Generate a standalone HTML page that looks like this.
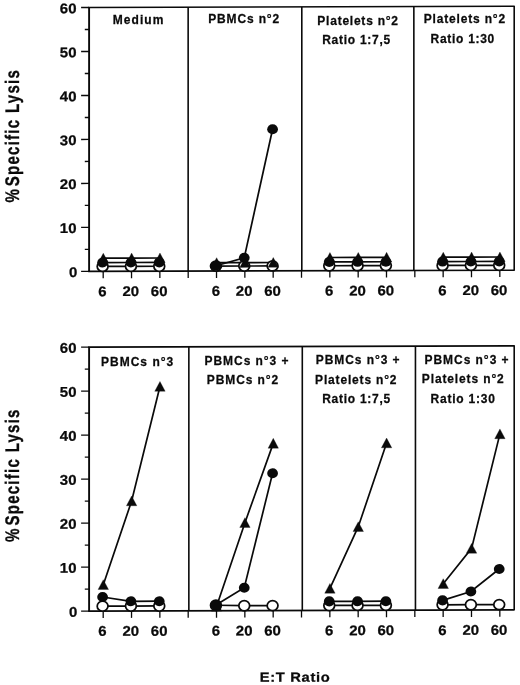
<!DOCTYPE html><html><head><meta charset="utf-8"><title>chart</title><style>
html,body{margin:0;padding:0;background:#fff;}body{width:520px;height:685px;overflow:hidden;}
svg{display:block;filter:grayscale(1);}text{font-family:"Liberation Sans",sans-serif;font-weight:bold;fill:#0a0a0a;stroke:#0a0a0a;stroke-width:0.25px;}
.t{font-size:12px;}.n{font-size:14px;}.yl{font-size:15.1px;}.xl{font-size:13.4px;}
</style></head><body>
<svg width="520" height="685" viewBox="0 0 520 685">
<rect width="520" height="685" fill="#fff"/>
<g transform="matrix(1 -0.00290 0 1 0 0.258)">
<g stroke="#0a0a0a" stroke-width="1.60" fill="none" stroke-linecap="butt">
<path stroke-linejoin="round" d="M88.20 7.50 H514.20 V271.40 H88.20"/>
<path stroke-width="1.35" d="M81.10 7.50 H89.10 M81.10 271.40 H89.10"/>
<path stroke-width="1.9" d="M89.10 7.50 V271.40"/>
<path d="M188.15 7.50 V271.40"/>
<path stroke-width="1.3" d="M188.19 271.40 V278.30"/>
<path d="M301.80 7.50 V271.40"/>
<path stroke-width="1.3" d="M301.51 271.40 V278.30"/>
<path d="M413.85 7.50 V271.40"/>
<path stroke-width="1.3" d="M414.83 271.40 V278.30"/>
<path stroke-width="1.35" d="M84.80 249.41 H89.10"/>
<path stroke-width="1.35" d="M81.10 227.42 H89.10"/>
<path stroke-width="1.35" d="M84.80 205.42 H89.10"/>
<path stroke-width="1.35" d="M81.10 183.43 H89.10"/>
<path stroke-width="1.35" d="M84.80 161.44 H89.10"/>
<path stroke-width="1.35" d="M81.10 139.45 H89.10"/>
<path stroke-width="1.35" d="M84.80 117.46 H89.10"/>
<path stroke-width="1.35" d="M81.10 95.47 H89.10"/>
<path stroke-width="1.35" d="M84.80 73.47 H89.10"/>
<path stroke-width="1.35" d="M81.10 51.48 H89.10"/>
<path stroke-width="1.35" d="M84.80 29.49 H89.10"/>
<path stroke-width="1.3" d="M103.20 271.40 V278.30"/>
<path stroke-width="1.3" d="M131.53 271.40 V278.30"/>
<path stroke-width="1.3" d="M159.86 271.40 V278.30"/>
<path stroke-width="1.3" d="M216.52 271.40 V278.30"/>
<path stroke-width="1.3" d="M244.85 271.40 V278.30"/>
<path stroke-width="1.3" d="M273.18 271.40 V278.30"/>
<path stroke-width="1.3" d="M329.84 271.40 V278.30"/>
<path stroke-width="1.3" d="M358.17 271.40 V278.30"/>
<path stroke-width="1.3" d="M386.50 271.40 V278.30"/>
<path stroke-width="1.3" d="M443.16 271.40 V278.30"/>
<path stroke-width="1.3" d="M471.49 271.40 V278.30"/>
<path stroke-width="1.3" d="M499.82 271.40 V278.30"/>
</g>
<text class="n" transform="translate(77.40 277.00) scale(1.070 1)" text-anchor="end">0</text>
<text class="n" transform="translate(76.50 233.02) scale(1.070 1)" text-anchor="end">10</text>
<text class="n" transform="translate(76.50 189.03) scale(1.070 1)" text-anchor="end">20</text>
<text class="n" transform="translate(76.50 145.05) scale(1.070 1)" text-anchor="end">30</text>
<text class="n" transform="translate(76.50 101.07) scale(1.070 1)" text-anchor="end">40</text>
<text class="n" transform="translate(76.50 57.08) scale(1.070 1)" text-anchor="end">50</text>
<text class="n" transform="translate(76.50 13.10) scale(1.070 1)" text-anchor="end">60</text>
<text class="n" transform="translate(102.50 296.20) scale(1.070 1)" text-anchor="middle">6</text>
<text class="n" transform="translate(130.83 296.20) scale(1.070 1)" text-anchor="middle">20</text>
<text class="n" transform="translate(159.16 296.20) scale(1.070 1)" text-anchor="middle">60</text>
<text class="n" transform="translate(215.82 296.20) scale(1.070 1)" text-anchor="middle">6</text>
<text class="n" transform="translate(244.15 296.20) scale(1.070 1)" text-anchor="middle">20</text>
<text class="n" transform="translate(272.48 296.20) scale(1.070 1)" text-anchor="middle">60</text>
<text class="n" transform="translate(329.14 296.20) scale(1.070 1)" text-anchor="middle">6</text>
<text class="n" transform="translate(357.47 296.20) scale(1.070 1)" text-anchor="middle">20</text>
<text class="n" transform="translate(385.80 296.20) scale(1.070 1)" text-anchor="middle">60</text>
<text class="n" transform="translate(442.46 296.20) scale(1.070 1)" text-anchor="middle">6</text>
<text class="n" transform="translate(470.79 296.20) scale(1.070 1)" text-anchor="middle">20</text>
<text class="n" transform="translate(499.12 296.20) scale(1.070 1)" text-anchor="middle">60</text>
<polyline points="103.30,258.20 131.63,258.20 159.96,258.20" fill="none" stroke="#0a0a0a" stroke-width="1.7"/>
<polyline points="102.60,266.47 130.93,266.47 159.26,266.47" fill="none" stroke="#0a0a0a" stroke-width="1.7"/>
<polyline points="102.60,262.60 130.93,262.60 159.26,262.60" fill="none" stroke="#0a0a0a" stroke-width="1.7"/>
<ellipse cx="102.60" cy="266.47" rx="5.4" ry="5.05" fill="#fff" stroke="#0a0a0a" stroke-width="1.75"/>
<ellipse cx="130.93" cy="266.47" rx="5.4" ry="5.05" fill="#fff" stroke="#0a0a0a" stroke-width="1.75"/>
<ellipse cx="159.26" cy="266.47" rx="5.4" ry="5.05" fill="#fff" stroke="#0a0a0a" stroke-width="1.75"/>
<path d="M103.30 253.20 L108.50 263.00 L98.10 263.00 Z" fill="#0a0a0a" stroke="#0a0a0a" stroke-width="0.3" stroke-linejoin="round"/>
<path d="M131.63 253.20 L136.83 263.00 L126.43 263.00 Z" fill="#0a0a0a" stroke="#0a0a0a" stroke-width="0.3" stroke-linejoin="round"/>
<path d="M159.96 253.20 L165.16 263.00 L154.76 263.00 Z" fill="#0a0a0a" stroke="#0a0a0a" stroke-width="0.3" stroke-linejoin="round"/>
<ellipse cx="102.60" cy="262.60" rx="5.4" ry="5.05" fill="#0a0a0a"/>
<ellipse cx="130.93" cy="262.60" rx="5.4" ry="5.05" fill="#0a0a0a"/>
<ellipse cx="159.26" cy="262.60" rx="5.4" ry="5.05" fill="#0a0a0a"/>
<polyline points="216.62,263.04 244.95,263.04 273.28,263.04" fill="none" stroke="#0a0a0a" stroke-width="1.7"/>
<polyline points="215.92,266.47 244.25,266.47 272.58,266.47" fill="none" stroke="#0a0a0a" stroke-width="1.7"/>
<polyline points="215.92,266.12 244.25,258.20 272.58,129.77" fill="none" stroke="#0a0a0a" stroke-width="1.7"/>
<ellipse cx="215.92" cy="266.47" rx="5.4" ry="5.05" fill="#fff" stroke="#0a0a0a" stroke-width="1.75"/>
<ellipse cx="244.25" cy="266.47" rx="5.4" ry="5.05" fill="#fff" stroke="#0a0a0a" stroke-width="1.75"/>
<ellipse cx="272.58" cy="266.47" rx="5.4" ry="5.05" fill="#fff" stroke="#0a0a0a" stroke-width="1.75"/>
<path d="M216.62 258.04 L221.82 267.84 L211.42 267.84 Z" fill="#0a0a0a" stroke="#0a0a0a" stroke-width="0.3" stroke-linejoin="round"/>
<path d="M244.95 258.04 L250.15 267.84 L239.75 267.84 Z" fill="#0a0a0a" stroke="#0a0a0a" stroke-width="0.3" stroke-linejoin="round"/>
<path d="M273.28 258.04 L278.48 267.84 L268.08 267.84 Z" fill="#0a0a0a" stroke="#0a0a0a" stroke-width="0.3" stroke-linejoin="round"/>
<ellipse cx="215.92" cy="266.12" rx="5.4" ry="5.05" fill="#0a0a0a"/>
<ellipse cx="244.25" cy="258.20" rx="5.4" ry="5.05" fill="#0a0a0a"/>
<ellipse cx="272.58" cy="129.77" rx="5.4" ry="5.05" fill="#0a0a0a"/>
<polyline points="329.94,258.20 358.27,258.20 386.60,258.20" fill="none" stroke="#0a0a0a" stroke-width="1.7"/>
<polyline points="329.24,266.47 357.57,266.47 385.90,266.47" fill="none" stroke="#0a0a0a" stroke-width="1.7"/>
<polyline points="329.24,262.60 357.57,262.60 385.90,262.60" fill="none" stroke="#0a0a0a" stroke-width="1.7"/>
<ellipse cx="329.24" cy="266.47" rx="5.4" ry="5.05" fill="#fff" stroke="#0a0a0a" stroke-width="1.75"/>
<ellipse cx="357.57" cy="266.47" rx="5.4" ry="5.05" fill="#fff" stroke="#0a0a0a" stroke-width="1.75"/>
<ellipse cx="385.90" cy="266.47" rx="5.4" ry="5.05" fill="#fff" stroke="#0a0a0a" stroke-width="1.75"/>
<path d="M329.94 253.20 L335.14 263.00 L324.74 263.00 Z" fill="#0a0a0a" stroke="#0a0a0a" stroke-width="0.3" stroke-linejoin="round"/>
<path d="M358.27 253.20 L363.47 263.00 L353.07 263.00 Z" fill="#0a0a0a" stroke="#0a0a0a" stroke-width="0.3" stroke-linejoin="round"/>
<path d="M386.60 253.20 L391.80 263.00 L381.40 263.00 Z" fill="#0a0a0a" stroke="#0a0a0a" stroke-width="0.3" stroke-linejoin="round"/>
<ellipse cx="329.24" cy="262.60" rx="5.4" ry="5.05" fill="#0a0a0a"/>
<ellipse cx="357.57" cy="262.60" rx="5.4" ry="5.05" fill="#0a0a0a"/>
<ellipse cx="385.90" cy="262.60" rx="5.4" ry="5.05" fill="#0a0a0a"/>
<polyline points="443.26,258.20 471.59,258.20 499.92,258.20" fill="none" stroke="#0a0a0a" stroke-width="1.7"/>
<polyline points="442.56,266.47 470.89,266.47 499.22,266.47" fill="none" stroke="#0a0a0a" stroke-width="1.7"/>
<polyline points="442.56,262.60 470.89,262.60 499.22,262.60" fill="none" stroke="#0a0a0a" stroke-width="1.7"/>
<ellipse cx="442.56" cy="266.47" rx="5.4" ry="5.05" fill="#fff" stroke="#0a0a0a" stroke-width="1.75"/>
<ellipse cx="470.89" cy="266.47" rx="5.4" ry="5.05" fill="#fff" stroke="#0a0a0a" stroke-width="1.75"/>
<ellipse cx="499.22" cy="266.47" rx="5.4" ry="5.05" fill="#fff" stroke="#0a0a0a" stroke-width="1.75"/>
<path d="M443.26 253.20 L448.46 263.00 L438.06 263.00 Z" fill="#0a0a0a" stroke="#0a0a0a" stroke-width="0.3" stroke-linejoin="round"/>
<path d="M471.59 253.20 L476.79 263.00 L466.39 263.00 Z" fill="#0a0a0a" stroke="#0a0a0a" stroke-width="0.3" stroke-linejoin="round"/>
<path d="M499.92 253.20 L505.12 263.00 L494.72 263.00 Z" fill="#0a0a0a" stroke="#0a0a0a" stroke-width="0.3" stroke-linejoin="round"/>
<ellipse cx="442.56" cy="262.60" rx="5.4" ry="5.05" fill="#0a0a0a"/>
<ellipse cx="470.89" cy="262.60" rx="5.4" ry="5.05" fill="#0a0a0a"/>
<ellipse cx="499.22" cy="262.60" rx="5.4" ry="5.05" fill="#0a0a0a"/>
<g stroke="#0a0a0a" stroke-width="1.60" fill="none" stroke-linecap="butt">
<path stroke-linejoin="round" d="M88.20 347.10 H514.20 V611.10 H88.20"/>
<path stroke-width="1.35" d="M81.10 347.10 H89.10 M81.10 611.10 H89.10"/>
<path stroke-width="1.9" d="M89.10 347.10 V611.10"/>
<path d="M188.85 347.10 V611.10"/>
<path stroke-width="1.3" d="M188.19 611.10 V618.00"/>
<path d="M302.30 347.10 V611.10"/>
<path stroke-width="1.3" d="M301.51 611.10 V618.00"/>
<path d="M415.45 347.10 V611.10"/>
<path stroke-width="1.3" d="M414.83 611.10 V618.00"/>
<path stroke-width="1.35" d="M84.80 589.10 H89.10"/>
<path stroke-width="1.35" d="M81.10 567.10 H89.10"/>
<path stroke-width="1.35" d="M84.80 545.10 H89.10"/>
<path stroke-width="1.35" d="M81.10 523.10 H89.10"/>
<path stroke-width="1.35" d="M84.80 501.10 H89.10"/>
<path stroke-width="1.35" d="M81.10 479.10 H89.10"/>
<path stroke-width="1.35" d="M84.80 457.10 H89.10"/>
<path stroke-width="1.35" d="M81.10 435.10 H89.10"/>
<path stroke-width="1.35" d="M84.80 413.10 H89.10"/>
<path stroke-width="1.35" d="M81.10 391.10 H89.10"/>
<path stroke-width="1.35" d="M84.80 369.10 H89.10"/>
<path stroke-width="1.3" d="M103.20 611.10 V618.00"/>
<path stroke-width="1.3" d="M131.53 611.10 V618.00"/>
<path stroke-width="1.3" d="M159.86 611.10 V618.00"/>
<path stroke-width="1.3" d="M216.52 611.10 V618.00"/>
<path stroke-width="1.3" d="M244.85 611.10 V618.00"/>
<path stroke-width="1.3" d="M273.18 611.10 V618.00"/>
<path stroke-width="1.3" d="M329.84 611.10 V618.00"/>
<path stroke-width="1.3" d="M358.17 611.10 V618.00"/>
<path stroke-width="1.3" d="M386.50 611.10 V618.00"/>
<path stroke-width="1.3" d="M443.16 611.10 V618.00"/>
<path stroke-width="1.3" d="M471.49 611.10 V618.00"/>
<path stroke-width="1.3" d="M499.82 611.10 V618.00"/>
</g>
<text class="n" transform="translate(77.40 616.70) scale(1.070 1)" text-anchor="end">0</text>
<text class="n" transform="translate(76.50 572.70) scale(1.070 1)" text-anchor="end">10</text>
<text class="n" transform="translate(76.50 528.70) scale(1.070 1)" text-anchor="end">20</text>
<text class="n" transform="translate(76.50 484.70) scale(1.070 1)" text-anchor="end">30</text>
<text class="n" transform="translate(76.50 440.70) scale(1.070 1)" text-anchor="end">40</text>
<text class="n" transform="translate(76.50 396.70) scale(1.070 1)" text-anchor="end">50</text>
<text class="n" transform="translate(76.50 352.70) scale(1.070 1)" text-anchor="end">60</text>
<text class="n" transform="translate(102.50 635.90) scale(1.070 1)" text-anchor="middle">6</text>
<text class="n" transform="translate(130.83 635.90) scale(1.070 1)" text-anchor="middle">20</text>
<text class="n" transform="translate(159.16 635.90) scale(1.070 1)" text-anchor="middle">60</text>
<text class="n" transform="translate(215.82 635.90) scale(1.070 1)" text-anchor="middle">6</text>
<text class="n" transform="translate(244.15 635.90) scale(1.070 1)" text-anchor="middle">20</text>
<text class="n" transform="translate(272.48 635.90) scale(1.070 1)" text-anchor="middle">60</text>
<text class="n" transform="translate(329.14 635.90) scale(1.070 1)" text-anchor="middle">6</text>
<text class="n" transform="translate(357.47 635.90) scale(1.070 1)" text-anchor="middle">20</text>
<text class="n" transform="translate(385.80 635.90) scale(1.070 1)" text-anchor="middle">60</text>
<text class="n" transform="translate(442.46 635.90) scale(1.070 1)" text-anchor="middle">6</text>
<text class="n" transform="translate(470.79 635.90) scale(1.070 1)" text-anchor="middle">20</text>
<text class="n" transform="translate(499.12 635.90) scale(1.070 1)" text-anchor="middle">60</text>
<polyline points="103.30,584.70 131.63,501.10 159.96,386.70" fill="none" stroke="#0a0a0a" stroke-width="1.7"/>
<polyline points="102.60,606.17 130.93,606.17 159.26,606.17" fill="none" stroke="#0a0a0a" stroke-width="1.7"/>
<polyline points="102.60,597.02 130.93,601.42 159.26,601.42" fill="none" stroke="#0a0a0a" stroke-width="1.7"/>
<ellipse cx="102.60" cy="606.17" rx="5.4" ry="5.05" fill="#fff" stroke="#0a0a0a" stroke-width="1.75"/>
<ellipse cx="130.93" cy="606.17" rx="5.4" ry="5.05" fill="#fff" stroke="#0a0a0a" stroke-width="1.75"/>
<ellipse cx="159.26" cy="606.17" rx="5.4" ry="5.05" fill="#fff" stroke="#0a0a0a" stroke-width="1.75"/>
<path d="M103.30 579.70 L108.50 589.50 L98.10 589.50 Z" fill="#0a0a0a" stroke="#0a0a0a" stroke-width="0.3" stroke-linejoin="round"/>
<path d="M131.63 496.10 L136.83 505.90 L126.43 505.90 Z" fill="#0a0a0a" stroke="#0a0a0a" stroke-width="0.3" stroke-linejoin="round"/>
<path d="M159.96 381.70 L165.16 391.50 L154.76 391.50 Z" fill="#0a0a0a" stroke="#0a0a0a" stroke-width="0.3" stroke-linejoin="round"/>
<ellipse cx="102.60" cy="597.02" rx="5.4" ry="5.05" fill="#0a0a0a"/>
<ellipse cx="130.93" cy="601.42" rx="5.4" ry="5.05" fill="#0a0a0a"/>
<ellipse cx="159.26" cy="601.42" rx="5.4" ry="5.05" fill="#0a0a0a"/>
<polyline points="216.62,606.70 244.95,523.10 273.28,443.90" fill="none" stroke="#0a0a0a" stroke-width="1.7"/>
<polyline points="215.92,605.60 244.25,606.17 272.58,606.17" fill="none" stroke="#0a0a0a" stroke-width="1.7"/>
<polyline points="215.92,605.38 244.25,588.22 272.58,473.82" fill="none" stroke="#0a0a0a" stroke-width="1.7"/>
<ellipse cx="215.92" cy="605.60" rx="5.4" ry="5.05" fill="#fff" stroke="#0a0a0a" stroke-width="1.75"/>
<ellipse cx="244.25" cy="606.17" rx="5.4" ry="5.05" fill="#fff" stroke="#0a0a0a" stroke-width="1.75"/>
<ellipse cx="272.58" cy="606.17" rx="5.4" ry="5.05" fill="#fff" stroke="#0a0a0a" stroke-width="1.75"/>
<path d="M216.62 601.70 L221.82 611.50 L211.42 611.50 Z" fill="#0a0a0a" stroke="#0a0a0a" stroke-width="0.3" stroke-linejoin="round"/>
<path d="M244.95 518.10 L250.15 527.90 L239.75 527.90 Z" fill="#0a0a0a" stroke="#0a0a0a" stroke-width="0.3" stroke-linejoin="round"/>
<path d="M273.28 438.90 L278.48 448.70 L268.08 448.70 Z" fill="#0a0a0a" stroke="#0a0a0a" stroke-width="0.3" stroke-linejoin="round"/>
<ellipse cx="215.92" cy="605.38" rx="5.4" ry="5.05" fill="#0a0a0a"/>
<ellipse cx="244.25" cy="588.22" rx="5.4" ry="5.05" fill="#0a0a0a"/>
<ellipse cx="272.58" cy="473.82" rx="5.4" ry="5.05" fill="#0a0a0a"/>
<polyline points="329.94,589.10 358.27,527.50 386.60,443.90" fill="none" stroke="#0a0a0a" stroke-width="1.7"/>
<polyline points="329.24,606.17 357.57,606.17 385.90,606.17" fill="none" stroke="#0a0a0a" stroke-width="1.7"/>
<polyline points="329.24,602.08 357.57,602.08 385.90,602.08" fill="none" stroke="#0a0a0a" stroke-width="1.7"/>
<ellipse cx="329.24" cy="606.17" rx="5.4" ry="5.05" fill="#fff" stroke="#0a0a0a" stroke-width="1.75"/>
<ellipse cx="357.57" cy="606.17" rx="5.4" ry="5.05" fill="#fff" stroke="#0a0a0a" stroke-width="1.75"/>
<ellipse cx="385.90" cy="606.17" rx="5.4" ry="5.05" fill="#fff" stroke="#0a0a0a" stroke-width="1.75"/>
<path d="M329.94 584.10 L335.14 593.90 L324.74 593.90 Z" fill="#0a0a0a" stroke="#0a0a0a" stroke-width="0.3" stroke-linejoin="round"/>
<path d="M358.27 522.50 L363.47 532.30 L353.07 532.30 Z" fill="#0a0a0a" stroke="#0a0a0a" stroke-width="0.3" stroke-linejoin="round"/>
<path d="M386.60 438.90 L391.80 448.70 L381.40 448.70 Z" fill="#0a0a0a" stroke="#0a0a0a" stroke-width="0.3" stroke-linejoin="round"/>
<ellipse cx="329.24" cy="602.08" rx="5.4" ry="5.05" fill="#0a0a0a"/>
<ellipse cx="357.57" cy="602.08" rx="5.4" ry="5.05" fill="#0a0a0a"/>
<ellipse cx="385.90" cy="602.08" rx="5.4" ry="5.05" fill="#0a0a0a"/>
<polyline points="443.26,584.70 471.59,549.50 499.92,435.10" fill="none" stroke="#0a0a0a" stroke-width="1.7"/>
<polyline points="442.56,605.82 470.89,605.82 499.22,605.82" fill="none" stroke="#0a0a0a" stroke-width="1.7"/>
<polyline points="442.56,601.42 470.89,592.62 499.22,570.18" fill="none" stroke="#0a0a0a" stroke-width="1.7"/>
<ellipse cx="442.56" cy="605.82" rx="5.4" ry="5.05" fill="#fff" stroke="#0a0a0a" stroke-width="1.75"/>
<ellipse cx="470.89" cy="605.82" rx="5.4" ry="5.05" fill="#fff" stroke="#0a0a0a" stroke-width="1.75"/>
<ellipse cx="499.22" cy="605.82" rx="5.4" ry="5.05" fill="#fff" stroke="#0a0a0a" stroke-width="1.75"/>
<path d="M443.26 579.70 L448.46 589.50 L438.06 589.50 Z" fill="#0a0a0a" stroke="#0a0a0a" stroke-width="0.3" stroke-linejoin="round"/>
<path d="M471.59 544.50 L476.79 554.30 L466.39 554.30 Z" fill="#0a0a0a" stroke="#0a0a0a" stroke-width="0.3" stroke-linejoin="round"/>
<path d="M499.92 430.10 L505.12 439.90 L494.72 439.90 Z" fill="#0a0a0a" stroke="#0a0a0a" stroke-width="0.3" stroke-linejoin="round"/>
<ellipse cx="442.56" cy="601.42" rx="5.4" ry="5.05" fill="#0a0a0a"/>
<ellipse cx="470.89" cy="592.62" rx="5.4" ry="5.05" fill="#0a0a0a"/>
<ellipse cx="499.22" cy="570.18" rx="5.4" ry="5.05" fill="#0a0a0a"/>
<text class="yl" transform="translate(18.8 202.40) rotate(-90) scale(1 1.30)" style="letter-spacing:1.200px;word-spacing:0.3px">%<tspan dx="1.8">Specific Lysis</tspan></text>
<text class="yl" transform="translate(18.8 541.70) rotate(-90) scale(1 1.30)" style="letter-spacing:1.200px;word-spacing:0.3px">%<tspan dx="1.8">Specific Lysis</tspan></text>
<text class="xl" transform="translate(259.70 682.3) scale(1.1 1)" style="letter-spacing:0.620px">E:T Ratio</text>
</g>
<text class="t" transform="translate(112.82 24.00) scale(1 1.05)" style="letter-spacing:1.036px">Medium</text>
<text class="t" transform="translate(208.14 22.70) scale(1 1.05)" style="letter-spacing:0.870px">PBMCs n°2</text>
<text class="t" transform="translate(317.36 24.50) scale(1 1.05)" style="letter-spacing:0.763px">Platelets n°2</text>
<text class="t" transform="translate(322.14 43.90) scale(1 1.05)" style="letter-spacing:0.742px">Ratio 1:7,5</text>
<text class="t" transform="translate(423.73 23.40) scale(1 1.05)" style="letter-spacing:0.825px">Platelets n°2</text>
<text class="t" transform="translate(430.56 43.30) scale(1 1.05)" style="letter-spacing:0.710px">Ratio 1:30</text>
<text class="t" transform="translate(100.96 365.95) scale(1 1.05)" style="letter-spacing:1.022px">PBMCs n°3</text>
<text class="t" transform="translate(204.56 364.50) scale(1 1.05)" style="letter-spacing:0.943px">PBMCs n°3 +</text>
<text class="t" transform="translate(206.85 383.90) scale(1 1.05)" style="letter-spacing:0.904px">PBMCs n°2</text>
<text class="t" transform="translate(315.85 364.30) scale(1 1.05)" style="letter-spacing:0.925px">PBMCs n°3 +</text>
<text class="t" transform="translate(315.08 383.50) scale(1 1.05)" style="letter-spacing:0.830px">Platelets n°2</text>
<text class="t" transform="translate(322.14 403.00) scale(1 1.05)" style="letter-spacing:0.742px">Ratio 1:7,5</text>
<text class="t" transform="translate(424.43 363.80) scale(1 1.05)" style="letter-spacing:0.972px">PBMCs n°3 +</text>
<text class="t" transform="translate(421.85 382.90) scale(1 1.05)" style="letter-spacing:0.869px">Platelets n°2</text>
<text class="t" transform="translate(430.56 402.55) scale(1 1.05)" style="letter-spacing:0.786px">Ratio 1:30</text>
</svg></body></html>
